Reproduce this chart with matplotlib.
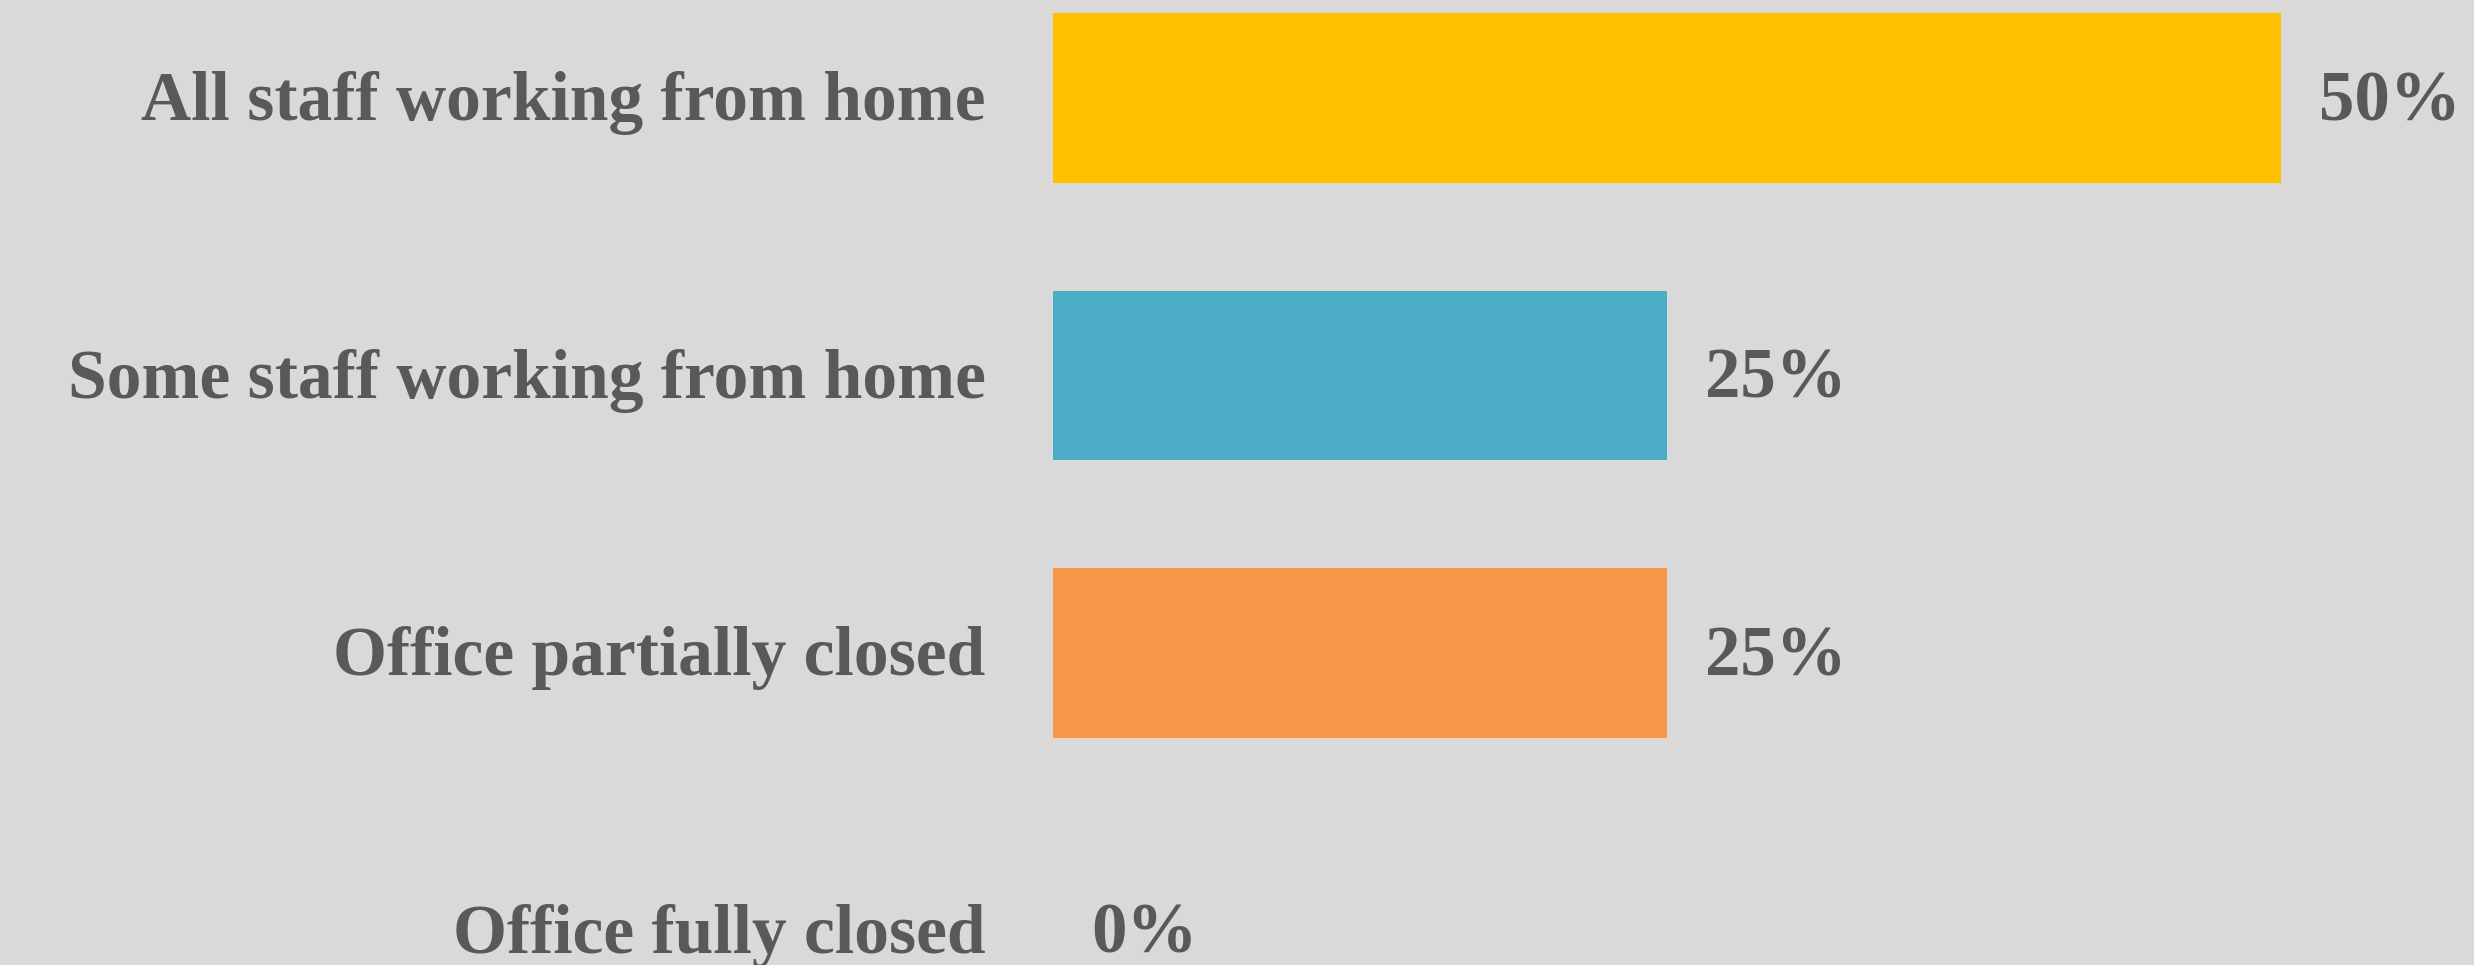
import matplotlib
matplotlib.use("Agg")
import matplotlib.pyplot as plt

# data
categories = ["All staff working from home", "Some staff working from home",
              "Office partially closed", "Office fully closed"]
values = [50, 25, 25, 0]
bar_colors = ["#FFC000", "#4BACC6", "#F79646", "#8064A2"]

bg = "#D9D9D9"
txt = "#595959"

fig = plt.figure(figsize=(24.74, 9.65), dpi=100, facecolor=bg)
ax = fig.add_axes([0, 0, 1, 1], facecolor=bg)

y = list(range(len(categories)))
ax.barh(y, values, height=0.61, color=bar_colors, edgecolor="none")

# labels on the left and values on the right of each bar
for yi, cat, v in zip(y, categories, values):
    ax.text(-2.75, yi + 0.08, cat, ha="right", va="baseline", fontsize=50,
            fontweight="bold", family="Liberation Serif", color=txt)
    ax.text(v + 1.55, yi + 0.08, f"{v}%", ha="left", va="baseline", fontsize=51,
            fontweight="bold", family="Liberation Serif", color=txt)

ax.set_xlim(-42.87, 57.86)
ax.set_ylim(3.124, -0.353)
ax.axis("off")

plt.savefig("out.png", dpi=100, facecolor=bg)
